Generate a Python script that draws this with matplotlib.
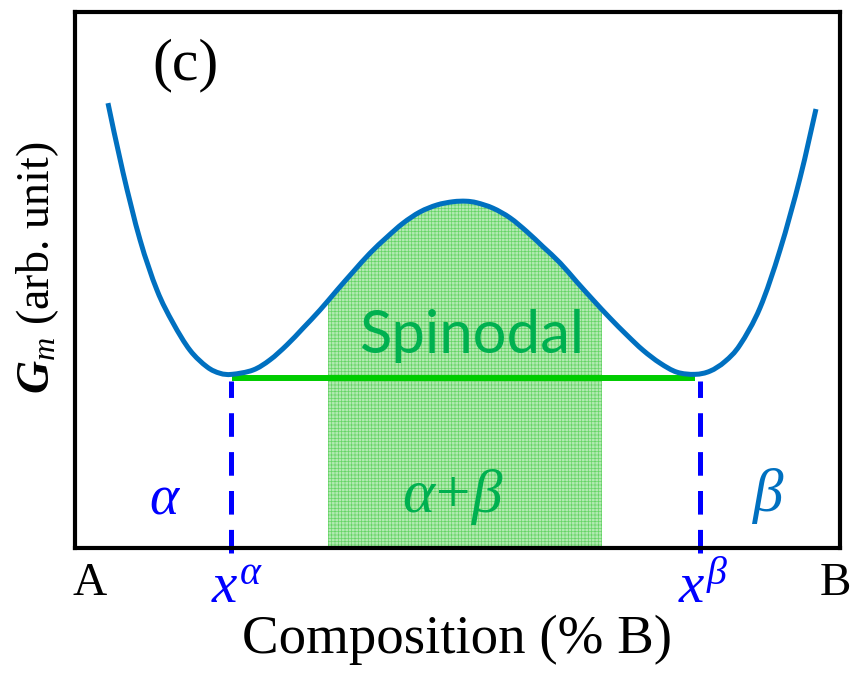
import matplotlib
matplotlib.use("Agg")
import matplotlib.pyplot as plt
import numpy as np
from matplotlib.path import Path
from matplotlib.patches import PathPatch, Rectangle

# Free-energy curve (x: % B, y: arb. unit)
curve_x = [4.31, 6.27, 8.50, 10.72, 12.81, 15.03, 17.25, 18.95, 20.52, 23.27,
           25.49, 27.71, 29.80, 32.03, 34.25, 36.34, 38.56, 40.78, 42.88, 45.10,
           47.32, 49.41, 51.11, 52.55, 54.64, 56.86, 59.08, 61.18, 63.40, 65.62,
           67.71, 69.93, 72.16, 74.25, 76.47, 78.69, 81.05, 83.01, 84.97, 86.93,
           89.54, 92.16, 94.77, 96.86]
curve_y = [8.30, 7.01, 5.75, 4.81, 4.20, 3.69, 3.38, 3.26, 3.24, 3.32,
           3.51, 3.79, 4.10, 4.44, 4.81, 5.15, 5.50, 5.80, 6.06, 6.27,
           6.40, 6.46, 6.47, 6.44, 6.34, 6.16, 5.90, 5.62, 5.32, 4.96,
           4.63, 4.29, 3.97, 3.69, 3.45, 3.28, 3.24, 3.30, 3.48, 3.79,
           4.48, 5.56, 6.90, 8.19]

x_alpha = 20.4      # common tangent points
x_beta = 81.7
tangent_y = 3.17
spinodal = [33.1, 68.9]

tick_pos = [1.96, 21.2, 82.1, 99.35]
tick_txt = ["A", r"$x^{\alpha}$", r"$x^{\beta}$", "B"]
tick_col = ["black", "#0000ff", "#0000ff", "black"]

plt.rcParams['mathtext.fontset'] = 'custom'
plt.rcParams['mathtext.rm'] = 'Liberation Serif'
plt.rcParams['mathtext.it'] = 'Liberation Serif:italic'
plt.rcParams['mathtext.bfit'] = 'Liberation Serif:italic:bold'
plt.rcParams['lines.scale_dashes'] = False
plt.rcParams['hatch.linewidth'] = 0.5


def smooth_path(xs, ys):
    # Catmull-Rom -> cubic Bezier control points, so matplotlib draws a smooth curve
    pts = np.column_stack([xs, ys])
    verts = [pts[0]]
    codes = [Path.MOVETO]
    n = len(pts)
    for i in range(n - 1):
        p0 = pts[max(i - 1, 0)]
        p1 = pts[i]
        p2 = pts[i + 1]
        p3 = pts[min(i + 2, n - 1)]
        verts += [p1 + (p2 - p0) / 6, p2 - (p3 - p1) / 6, p2]
        codes += [Path.CURVE4] * 3
    return verts, codes


fig = plt.figure(figsize=(8.52, 6.73), dpi=100)
ax = fig.add_axes([75 / 852, 125 / 673, 765 / 852, 536 / 673])
ax.set_xlim(0, 100)
ax.set_ylim(0, 10)
ax.set_xticks([])
ax.set_yticks([])
for s in ax.spines.values():
    s.set_linewidth(3.0)
    s.set_zorder(6)

verts, codes = smooth_path(curve_x, curve_y)

# region under the curve, used to clip the spinodal shading
under = verts + [(curve_x[-1], 0), (curve_x[0], 0), (curve_x[0], curve_y[0])]
under_codes = codes + [Path.LINETO, Path.LINETO, Path.CLOSEPOLY]
clip = PathPatch(Path(under, under_codes), transform=ax.transData,
                 facecolor='none', edgecolor='none')
ax.add_patch(clip)

shade = Rectangle((spinodal[0], 0), spinodal[1] - spinodal[0], 10,
                  facecolor='#b2eab2', edgecolor='#66d466', hatch='+++++',
                  linewidth=0, zorder=1)
ax.add_patch(shade)
shade.set_clip_path(clip)

ax.add_patch(PathPatch(Path(verts, codes), facecolor='none',
                       edgecolor='#0070c0', linewidth=3.6, zorder=4,
                       capstyle='butt'))

ax.plot([curve_x[8], curve_x[36]], [tangent_y, tangent_y], color='#00cc00',
        linewidth=4.3, solid_capstyle='butt', zorder=3)
for xv in [x_alpha, x_beta]:
    ax.plot([xv, xv], [-0.1, tangent_y - 0.05], color='#0000ff', linewidth=3.6,
            dashes=[17, 11], clip_on=False, zorder=5)

serif = 'Liberation Serif'
ax.text(14.38, 9.01, "(c)", fontsize=43, family=serif, ha='center', va='center')
ax.text(51.8, 3.96, "Spinodal", fontsize=43, family='Lato', color='#00b050',
        ha='center', va='center', zorder=5)
ax.text(11.8, 0.93, r"$\alpha$", fontsize=40, color='#0000ff', ha='center', va='center')
ax.text(49.4, 0.95, r"$\alpha\!+\!\beta$", fontsize=44, color='#00b050',
        ha='center', va='center', zorder=5)
ax.text(90.7, 0.97, r"$\beta$", fontsize=44, color='#0070c0', ha='center', va='center')

trans = ax.get_xaxis_transform()
for xp, t, c in zip(tick_pos, tick_txt, tick_col):
    if t.startswith('$'):
        ax.text(xp, -0.1026, t, fontsize=41, color=c, ha='center',
                va='baseline', transform=trans, clip_on=False)
    else:
        ax.text(xp, -0.067, t, fontsize=34, family=serif, color=c, ha='center',
                va='center', transform=trans, clip_on=False)

fig.text(457 / 852, 1 - 640 / 673, "Composition (% B)", fontsize=39.5,
         family=serif, ha='center', va='center')
fig.text(38 / 852, 1 - 268 / 673, r"$\mathbfit{G}_m$ (arb. unit)", fontsize=33,
         family=serif, rotation=90, ha='center', va='center')

fig.savefig("out.png", dpi=100)
